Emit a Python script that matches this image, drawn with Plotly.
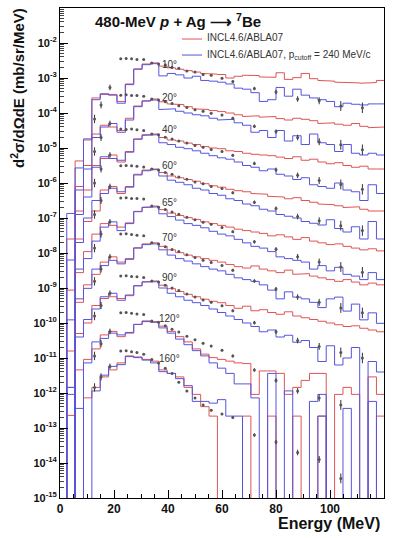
import plotly.graph_objects as go

# ---------------------------------------------------------------------------
# 480-MeV p + Ag -> 7Be double-differential cross sections
# values are log10(d2sigma/dOmega dE) in mb/sr/MeV, before the per-angle scaling
# ---------------------------------------------------------------------------
angles = ["10°", "20°", "40°", "60°", "65°", "70°", "90°", "120°", "160°"]
scale_exp = [0, -1, -2, -3, -4, -5, -6, -7, -8]   # each angle shown x 10^scale

bin_edges = [2.5, 5.6, 8.7, 11.8, 14.9, 18.0, 21.1, 24.2, 27.3, 30.4, 33.5, 36.6,
             39.7, 42.8, 45.9, 49.0, 52.1, 55.2, 58.3, 61.4, 64.5, 67.6, 70.7,
             73.8, 76.9, 80.0, 83.1, 86.2, 89.3, 92.4, 95.5, 98.6, 101.7, 104.8,
             107.9, 111.0, 114.1, 117.2, 120.3]

# INCL4.6/ABLA07 (None = empty bin)
incl_std = [
    [None, -5.37, -4.77, -3.57, -3.47, -3.47, -3.67, -3.17, -2.74, -2.60, -2.57, -2.66, -2.71, -2.75, -2.79, -2.83, -2.87, -2.89, -2.90, -3.00, -2.95, -2.92, -2.93, -2.97, -2.98, -2.85, -3.04, -2.99, -2.87, -3.02, -3.07, -3.09, -3.12, -3.12, -3.14, -3.15, -3.13, -3.07],
    [None, -5.10, -4.50, -3.60, -3.35, -3.40, -3.50, -3.15, -2.80, -2.65, -2.60, -2.68, -2.74, -2.76, -2.82, -2.88, -2.90, -2.93, -2.96, -3.00, -3.05, -3.10, -3.08, -3.12, -3.10, -3.16, -3.20, -3.15, -3.18, -3.22, -3.30, -3.28, -3.32, -3.35, -3.30, -3.38, -3.42, -3.40],
    [-5.60, -4.80, -4.20, -3.50, -3.30, -3.20, -3.40, -3.10, -2.74, -2.62, -2.60, -2.70, -2.77, -2.80, -2.86, -2.90, -2.96, -3.00, -3.02, -3.08, -3.10, -3.15, -3.18, -3.20, -3.22, -3.26, -3.30, -3.25, -3.35, -3.32, -3.40, -3.45, -3.42, -3.50, -3.55, -3.52, -3.60, -3.60],
    [None, -4.60, -4.10, -3.80, -3.20, -3.10, -3.30, -3.10, -2.75, -2.63, -2.60, -2.70, -2.80, -2.85, -2.90, -2.95, -3.02, -3.08, -3.12, -3.18, -3.22, -3.25, -3.30, -3.32, -3.38, -3.40, -3.45, -3.42, -3.50, -3.55, -3.60, -3.62, -3.65, -3.70, -3.68, -3.75, -3.80, -3.80],
    [-5.06, -4.56, -3.96, -3.46, -3.16, -3.21, -3.26, -3.14, -2.81, -2.69, -2.66, -2.76, -2.86, -2.93, -2.99, -3.04, -3.11, -3.16, -3.21, -3.26, -3.32, -3.36, -3.40, -3.44, -3.51, -3.48, -3.54, -3.61, -3.56, -3.66, -3.71, -3.76, -3.74, -3.81, -3.86, -3.91, -3.88, -3.94],
    [None, -4.41, -3.91, -3.61, -3.26, -3.11, -3.26, -3.16, -2.85, -2.74, -2.71, -2.81, -2.91, -2.99, -3.06, -3.11, -3.16, -3.21, -3.26, -3.33, -3.39, -3.43, -3.37, -3.46, -3.51, -3.56, -3.49, -3.61, -3.59, -3.66, -3.71, -3.76, -3.81, -3.76, -3.83, -3.91, -3.86, -3.91],
    [-4.80, -4.30, -4.00, -3.50, -3.30, -3.25, -3.30, -3.22, -2.93, -2.82, -2.80, -2.92, -3.02, -3.10, -3.18, -3.25, -3.32, -3.38, -3.42, -3.50, -3.58, -3.52, -3.65, -3.62, -3.70, -3.75, -3.68, -3.80, -3.85, -3.90, -3.95, -4.00, -4.05, -4.10, -4.08, -4.15, -4.20, -4.25],
    [-4.84, -4.34, -4.04, -3.74, -3.34, -3.24, -3.39, -3.29, -3.04, -2.94, -2.96, -3.09, -3.24, -3.39, -3.54, -3.74, -3.89, -3.99, -4.04, -4.09, -4.14, -4.16, -5.04, -4.37, -4.37, -4.44, -5.04, -4.84, -4.64, -4.44, -4.44, None, -5.04, -4.84, -5.04, None, -4.54, -5.04],
    [-4.64, None, -4.14, -3.84, -3.54, -3.34, -3.14, -2.94, -2.97, -3.04, -3.09, -3.34, -3.44, -3.54, -3.84, -4.04, -4.39, -4.66, None, None, None, -4.66, None, None, -4.66, None, None, -4.66, None, None, -4.66, None, None, None, None, None, None, -4.66],
]

# INCL4.6/ABLA07 with p_cutoff = 240 MeV/c
incl_cut = [
    [-6.87, -5.57, -4.74, -3.62, -3.45, -3.49, -3.72, -3.19, -2.75, -2.62, -2.59, -2.94, -2.87, -2.91, -3.00, -2.95, -3.07, -3.09, -3.12, -3.17, -3.29, -3.32, -3.42, -3.67, -3.62, -3.27, -3.52, -3.32, -3.49, -3.57, -3.62, -3.67, -3.82, -3.72, -3.75, -3.77, -3.74, -3.74],
    [None, -5.20, -4.60, -3.70, -3.40, -3.30, -3.55, -3.20, -2.82, -2.66, -2.63, -2.90, -2.88, -2.95, -3.00, -3.05, -3.08, -3.15, -3.20, -3.18, -3.28, -3.35, -3.55, -3.50, -3.70, -3.50, -3.80, -3.65, -3.90, -3.60, -3.85, -3.90, -4.10, -3.90, -4.15, -4.20, -4.15, -4.20],
    [None, -4.90, -4.40, -3.55, -3.25, -3.30, -3.35, -3.12, -2.75, -2.64, -2.62, -2.85, -2.90, -2.98, -3.02, -3.08, -3.15, -3.22, -3.28, -3.32, -3.40, -3.50, -3.55, -3.65, -3.60, -3.75, -3.80, -3.90, -3.85, -4.05, -4.10, -4.15, -4.00, -4.20, -4.25, -4.50, -4.05, -4.30],
    [-5.20, -4.70, -4.00, -3.50, -3.30, -3.15, -3.25, -3.12, -2.77, -2.65, -2.62, -2.80, -2.92, -2.98, -3.05, -3.15, -3.20, -3.30, -3.35, -3.45, -3.50, -3.60, -3.65, -3.75, -3.80, -3.90, -3.95, -4.00, -4.10, -4.15, -4.20, -4.05, -4.30, -4.40, -4.25, -4.60, -4.10, -4.60],
    [None, -4.46, -4.16, -3.66, -3.26, -3.11, -3.36, -3.16, -2.82, -2.70, -2.68, -2.88, -2.96, -3.06, -3.16, -3.21, -3.28, -3.38, -3.46, -3.51, -3.61, -3.71, -3.81, -3.86, -3.96, -4.11, -4.16, -4.21, -4.26, -4.46, -4.36, -4.51, -4.41, -4.61, -4.66, -4.76, -4.56, -4.76],
    [-4.91, -4.31, -4.01, -3.46, -3.36, -3.21, -3.31, -3.18, -2.86, -2.76, -2.74, -2.91, -3.06, -3.16, -3.23, -3.31, -3.39, -3.46, -3.51, -3.61, -3.71, -3.76, -3.81, -3.91, -4.06, -4.31, -4.11, -4.26, -4.31, -4.41, -4.56, -4.31, -4.26, -4.66, -4.46, -4.91, -4.71, -5.01],
    [None, -4.40, -3.90, -3.60, -3.25, -3.15, -3.35, -3.20, -2.94, -2.83, -2.82, -3.00, -3.15, -3.25, -3.35, -3.42, -3.50, -3.60, -3.70, -3.80, -3.90, -4.00, -4.10, -4.25, -4.20, -4.40, -4.35, -4.55, -4.50, -4.70, -5.10, -4.65, -5.20, -5.00, -4.70, None, -5.10, -5.40],
    [-5.04, None, -4.14, -3.54, -3.44, -3.29, -3.34, -3.27, -3.04, -2.96, -2.98, -3.14, -3.29, -3.46, -3.62, -3.79, -3.94, -4.14, -4.29, -4.44, -4.74, -4.74, -5.14, None, -4.44, None, -4.94, None, None, -5.24, -5.04, None, None, -5.44, None, None, -5.24, None],
    [-3.84, -4.44, None, -3.94, -3.49, -3.24, -3.19, -2.96, -2.99, -3.06, -3.14, -3.39, -3.44, -3.59, -3.79, -4.24, -4.24, -4.29, -4.19, -4.66, -4.66, None, None, None, None, None, None, None, None, None, -4.66, None, None, None, None, None, None, None],
]

# measured spectra
exp_energy = [12.8, 15.2, 18.5, 22.5, 24.5, 26.5, 28.5, 31.0, 34.0, 36.5, 39.0, 41.5,
              44.0, 47.0, 50.0, 53.0, 56.0, 60.0, 64.0, 72.0, 80.0, 88.0, 96.0, 104.0, 112.0]
exp_err_dex = [0.12, 0.10, 0.08, 0.02, 0.02, 0.02, 0.02, 0.02, 0.02, 0.02, 0.02, 0.02,
               0.02, 0.02, 0.02, 0.03, 0.03, 0.03, 0.04, 0.05, 0.06, 0.08, 0.10, 0.14, 0.15]
exp_vals = [
    [-4.17, -3.77, -3.27, -2.45, -2.44, -2.45, -2.47, -2.47, -2.57, -2.60, -2.63, -2.70, -2.72, -2.80, -2.83, -2.90, -2.92, -3.01, -3.10, -3.30, -3.40, -3.60, -3.65, -3.80, -3.85],
    [-4.10, -3.70, -3.30, -2.49, -2.48, -2.50, -2.50, -2.52, -2.60, -2.63, -2.68, -2.73, -2.79, -2.84, -2.91, -2.95, -3.01, -3.06, -3.15, -3.38, -3.53, -3.70, -3.82, -3.91, -4.05],
    [-4.00, -3.60, -3.20, -2.46, -2.47, -2.46, -2.48, -2.50, -2.60, -2.62, -2.69, -2.74, -2.80, -2.86, -2.93, -2.98, -3.04, -3.10, -3.21, -3.44, -3.62, -3.78, -3.93, -4.04, -4.18],
    [-3.90, -3.50, -3.10, -2.51, -2.50, -2.51, -2.52, -2.54, -2.60, -2.63, -2.70, -2.75, -2.83, -2.89, -2.97, -3.02, -3.10, -3.16, -3.28, -3.55, -3.73, -3.96, -4.08, -4.22, -4.36],
    [-3.86, -3.46, -3.11, -2.43, -2.42, -2.44, -2.44, -2.46, -2.66, -2.69, -2.76, -2.83, -2.89, -2.98, -3.05, -3.12, -3.18, -3.27, -3.39, -3.68, -3.89, -4.11, -4.26, -4.40, -4.55],
    [-3.81, -3.46, -3.11, -2.46, -2.45, -2.47, -2.49, -2.51, -2.71, -2.74, -2.82, -2.90, -2.96, -3.05, -3.13, -3.21, -3.27, -3.36, -3.49, -3.80, -4.03, -4.26, -4.41, -4.57, -4.71],
    [-3.80, -3.50, -3.15, -2.66, -2.65, -2.67, -2.68, -2.70, -2.80, -2.83, -2.92, -3.00, -3.07, -3.17, -3.26, -3.34, -3.41, -3.51, -3.65, -3.99, -4.25, -4.50, -4.67, -4.84, -5.00],
    [-3.94, -3.59, -3.24, -2.71, -2.70, -2.72, -2.74, -2.76, -2.94, -2.98, -3.08, -3.18, -3.26, -3.38, -3.48, -3.58, -3.66, -3.78, -3.94, -4.34, -4.64, -4.94, -5.14, -5.34, None],
    [-3.84, -3.54, -3.24, -2.80, -2.79, -2.82, -2.84, -2.89, -3.04, -3.14, -3.29, -3.44, -3.69, -3.94, -4.14, -4.34, -4.49, -4.60, -4.70, -5.20, -5.40, -5.70, -5.90, -6.44, None],
]

# angle tag placement (energy, log10 of displayed value)
tag_energy = 40.7
tag_level = [-2.62, -3.57, -4.46, -5.51, -6.57, -7.57, -8.71, -9.86, -11.0]

RED = "rgb(224,84,84)"
BLUE = "rgb(84,84,222)"
FONT = "Liberation Sans, Arial, Helvetica, sans-serif"
FLOOR = 1e-17


def outline(vals, sexp):
    """Histogram outline, empty bins dropping to the bottom of the log axis."""
    xs, ys = [bin_edges[0]], [FLOOR]
    for i, v in enumerate(vals):
        y = FLOOR if v is None else 10 ** (v + sexp)
        xs += [bin_edges[i], bin_edges[i + 1]]
        ys += [y, y]
    xs.append(bin_edges[-1])
    ys.append(FLOOR)
    return xs, ys


fig = go.Figure()

for series, color in ((incl_std, RED), (incl_cut, BLUE)):
    for vals, sexp in zip(series, scale_exp):
        xs, ys = outline(vals, sexp)
        fig.add_trace(go.Scatter(x=xs, y=ys, mode="lines",
                                 line=dict(color=color, width=1),
                                 showlegend=False, hoverinfo="skip"))

for vals, sexp in zip(exp_vals, scale_exp):
    xs, ys, up, dn = [], [], [], []
    for e, v, d in zip(exp_energy, vals, exp_err_dex):
        if v is None:
            continue
        y = 10 ** (v + sexp)
        xs.append(e)
        ys.append(y)
        up.append(10 ** (v + sexp + d) - y)
        dn.append(y - 10 ** (v + sexp - d))
    fig.add_trace(go.Scatter(
        x=xs, y=ys, mode="markers",
        marker=dict(symbol="circle", size=3, color="#555"),
        error_y=dict(type="data", array=up, arrayminus=dn, symmetric=False,
                     color="#333", thickness=1, width=0),
        showlegend=False, hoverinfo="skip"))

# minor decade ticks on the log axis, drawn on an overlaid axis without labels
minor_vals = [m * 10.0 ** k for k in range(-15, -1) for m in range(2, 10)]
fig.add_trace(go.Scatter(x=[None], y=[None], yaxis="y2", showlegend=False,
                         hoverinfo="skip"))

annotations = []
for name, lvl in zip(angles, tag_level):
    annotations.append(dict(x=tag_energy, y=lvl, xref="x", yref="y", text=name,
                            showarrow=False, font=dict(family=FONT, size=10, color="#333")))

# title and legend
annotations += [
    dict(x=0.102, y=0.974, xref="paper", yref="paper", xanchor="left", yanchor="middle",
         text="<b>480-MeV <i>p</i> + Ag \u27f6 <sup>7</sup>Be</b>", showarrow=False,
         font=dict(family=FONT, size=15, color="#111")),
    dict(x=0.4475, y=0.940, xref="paper", yref="paper", xanchor="left", yanchor="middle",
         text="INCL4.6/ABLA07", showarrow=False,
         font=dict(family=FONT, size=10, color="#333")),
    dict(x=0.4475, y=0.904, xref="paper", yref="paper", xanchor="left", yanchor="middle",
         text="INCL4.6/ABLA07, p<sub>cutoff</sub> = 240 MeV/c", showarrow=False,
         font=dict(family=FONT, size=10, color="#333")),
    dict(x=-0.133, y=1.004, xref="paper", yref="paper", textangle=-90,
         xanchor="center", yanchor="top",
         text="<b>d<sup>2</sup>σ/dΩdE (mb/sr/MeV)</b>", showarrow=False,
         font=dict(family=FONT, size=15, color="#111")),
    dict(x=0.994, y=-0.053, xref="paper", yref="paper", xanchor="right", yanchor="middle",
         text="<b>Energy (MeV)</b>", showarrow=False,
         font=dict(family=FONT, size=16, color="#111")),
]

shapes = [
    dict(type="line", xref="paper", yref="paper", x0=0.3765, x1=0.4383, y0=0.9367, y1=0.9367,
         line=dict(color=RED, width=1)),
    dict(type="line", xref="paper", yref="paper", x0=0.3765, x1=0.4383, y0=0.904, y1=0.904,
         line=dict(color=BLUE, width=1)),
]

ytick_vals = [10.0 ** k for k in range(-15, -1)]
ytick_text = ["<b>10<sup>%d</sup></b>" % k for k in range(-15, -1)]

fig.update_layout(
    width=394, height=538,
    margin=dict(l=60, r=10, t=8, b=40),
    paper_bgcolor="white", plot_bgcolor="white",
    annotations=annotations, shapes=shapes,
    xaxis=dict(range=[0, 120], showgrid=False, zeroline=False,
               showline=True, mirror=True, linecolor="black", linewidth=1,
               ticks="inside", ticklen=8, tickcolor="black",
               tickvals=[0, 20, 40, 60, 80, 100, 120],
               ticktext=["<b>%d</b>" % v for v in [0, 20, 40, 60, 80, 100, 120]],
               minor=dict(ticks="inside", ticklen=4, tickcolor="black", dtick=5,
                          showgrid=False),
               tickfont=dict(family=FONT, size=12, color="#111")),
    yaxis=dict(type="log", range=[-15, -1], showgrid=False, zeroline=False,
               showline=True, mirror=True, linecolor="black", linewidth=1,
               ticks="inside", ticklen=8, tickcolor="black",
               tickvals=ytick_vals, ticktext=ytick_text,
               tickfont=dict(family=FONT, size=11, color="#111")),
    yaxis2=dict(type="log", range=[-15, -1], overlaying="y", side="left",
                showgrid=False, zeroline=False, showline=False,
                ticks="inside", ticklen=4, tickcolor="#444",
                tickvals=minor_vals, showticklabels=False),
)

fig.write_html("out.html")
